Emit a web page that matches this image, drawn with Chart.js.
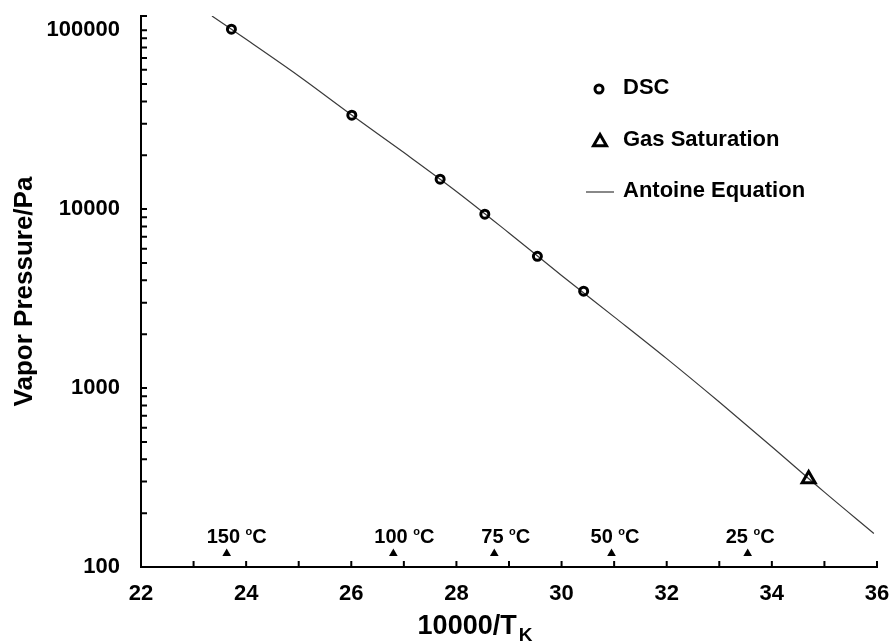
<!DOCTYPE html>
<html>
<head>
<meta charset="utf-8">
<script src="https://cdn.jsdelivr.net/npm/chart.js@4.4.1/dist/chart.umd.min.js"></script>
<style>
  html, body { margin: 0; padding: 0; background: #fff; }
</style>
</head>
<body>
<canvas id="myChart" width="893" height="644"></canvas>
<script>
// values (x = 10000/T in K, y = Pa)
const dscX = [23.72, 26.01, 27.69, 28.54, 29.54, 30.42];
const dscP = [101300, 33500, 14700, 9370, 5450, 3480];
const gasX = [34.70];
const gasP = [310];
const antoineX = [23.35, 24, 25, 26, 27, 28, 29, 30, 31, 32, 33, 34, 35, 35.94];
const antoineP = [120000, 88900, 55500, 33700, 20700, 12560, 7360, 4260, 2500, 1460, 835, 470, 262, 154];
const tempX = [23.63, 26.80, 28.72, 30.95, 33.54];
const tempP = [119, 119, 119, 119, 119];
const tempLabels = ['150', '100', '75', '50', '25'];
const xTickLabels = [22, 24, 26, 28, 30, 32, 34, 36];
const yTickLabels = [100, 1000, 10000, 100000];

const CHART = document.getElementById('myChart');
const FONT = '"Liberation Sans", Arial, sans-serif';
const toPts = (xs, ys) => xs.map((v, i) => ({ x: v, y: ys[i] }));

// where the temperature text sits, relative to its triangle
const tempShift = [-20, -19, -13, -21, -22];

const noPad = s => {
    s.paddingTop = 0;
    s.paddingBottom = 0;
    s.paddingLeft = 0;
    s.paddingRight = 0;
};

const decor = {
    id: 'decor',
    afterDraw(chart) {
        const { ctx, chartArea: a, scales: { x, y } } = chart;
        ctx.save();

        // tick marks pointing into the plot
        ctx.strokeStyle = '#000';
        ctx.lineWidth = 2;
        ctx.beginPath();
        x.ticks.forEach(t => {
            const px = x.getPixelForValue(t.value);
            ctx.moveTo(px, a.bottom);
            ctx.lineTo(px, a.bottom - 6);
        });
        y.ticks.forEach(t => {
            const py = y.getPixelForValue(t.value);
            ctx.moveTo(a.left, py);
            ctx.lineTo(a.left + 6, py);
        });
        ctx.stroke();

        ctx.fillStyle = '#000';
        ctx.textBaseline = 'middle';
        ctx.textAlign = 'left';

        // temperature labels
        tempLabels.forEach((lab, i) => {
            const px = x.getPixelForValue(tempX[i]) + tempShift[i];
            const py = y.getPixelForValue(tempP[i]) - 16;
            ctx.font = 'bold 20px ' + FONT;
            const s = lab + ' ';
            ctx.fillText(s, px, py);
            let cx = px + ctx.measureText(s).width;
            ctx.font = 'bold 11px ' + FONT;
            ctx.fillText('o', cx, py - 5.5);
            cx += ctx.measureText('o').width;
            ctx.font = 'bold 20px ' + FONT;
            ctx.fillText('C', cx, py);
        });

        // legend
        const lx = a.left + 458;
        const tx = a.left + 482;
        ctx.font = 'bold 22px ' + FONT;
        ctx.strokeStyle = '#000';
        ctx.fillStyle = 'rgba(0,0,0,0)';
        ctx.lineWidth = 3;
        Chart.helpers.drawPoint(ctx, { pointStyle: 'circle', radius: 4, rotation: 0, borderWidth: 3 }, lx, a.top + 73);
        Chart.helpers.drawPoint(ctx, { pointStyle: 'triangle', radius: 7.5, rotation: 0, borderWidth: 3 }, lx + 1, a.top + 126);
        ctx.fillStyle = '#000';
        ctx.fillText('DSC', tx, a.top + 72);
        ctx.fillText('Gas Saturation', tx, a.top + 124);
        ctx.strokeStyle = '#3a3a3a';
        ctx.lineWidth = 1.2;
        ctx.beginPath();
        ctx.moveTo(a.left + 445, a.top + 176);
        ctx.lineTo(a.left + 473, a.top + 176);
        ctx.stroke();
        ctx.fillText('Antoine Equation', tx, a.top + 175);

        // axis titles
        ctx.font = 'bold 26px ' + FONT;
        ctx.save();
        ctx.translate(25, (a.top + a.bottom) / 2);
        ctx.rotate(-Math.PI / 2);
        ctx.textAlign = 'center';
        ctx.fillText('Vapor Pressure/Pa', 0, 0);
        ctx.restore();

        const main = '10000/T';
        ctx.font = 'bold 27px ' + FONT;
        const w1 = ctx.measureText(main).width;
        ctx.font = 'bold 19px ' + FONT;
        const w2 = ctx.measureText('K').width;
        const sx = a.left + 334 - (w1 + w2 + 2) / 2;
        ctx.font = 'bold 27px ' + FONT;
        ctx.fillText(main, sx, 627);
        ctx.font = 'bold 19px ' + FONT;
        ctx.fillText('K', sx + w1 + 2, 636);

        ctx.restore();
    }
};

const chart = new Chart(CHART, {
    type: 'scatter',
    data: {
        datasets: [
            {
                label: 'DSC',
                data: toPts(dscX, dscP),
                pointStyle: 'circle',
                pointRadius: 4,
                pointBorderWidth: 3,
                borderColor: '#000',
                backgroundColor: 'rgba(0,0,0,0)'
            },
            {
                label: 'Gas Saturation',
                data: toPts(gasX, gasP),
                pointStyle: 'triangle',
                pointRadius: 7.5,
                pointBorderWidth: 3,
                borderColor: '#000',
                backgroundColor: 'rgba(0,0,0,0)'
            },
            {
                label: 'temps',
                data: toPts(tempX, tempP),
                pointStyle: 'triangle',
                pointRadius: 5,
                pointBorderWidth: 0,
                borderColor: '#000',
                backgroundColor: '#000'
            },
            {
                label: 'Antoine Equation',
                data: toPts(antoineX, antoineP),
                showLine: true,
                cubicInterpolationMode: 'monotone',
                pointRadius: 0,
                borderColor: '#3a3a3a',
                borderWidth: 1.2
            }
        ]
    },
    options: {
        responsive: false,
        animation: false,
        layout: { padding: { top: 16, right: 16, left: 0, bottom: 0 } },
        plugins: { legend: { display: false }, tooltip: { enabled: false } },
        scales: {
            x: {
                type: 'linear',
                min: 22,
                max: 36,
                afterFit: s => { s.height = 77; noPad(s); },
                grid: { display: false, drawTicks: false },
                border: { display: true, color: '#000', width: 2 },
                ticks: {
                    stepSize: 1,
                    autoSkip: false,
                    maxRotation: 0,
                    padding: 14,
                    color: '#000',
                    font: { family: FONT, size: 22, weight: 'bold' },
                    callback: v => xTickLabels.includes(v) ? String(v) : ''
                }
            },
            y: {
                type: 'logarithmic',
                min: 100,
                max: 120000,
                afterFit: s => { s.width = 141; noPad(s); },
                afterBuildTicks: s => {
                    const t = [];
                    yTickLabels.forEach((p, i) => {
                        if (i < yTickLabels.length - 1) {
                            for (let k = 1; k < 10; k++) t.push({ value: k * p });
                        } else {
                            t.push({ value: p });
                        }
                    });
                    t.push({ value: 120000 });
                    s.ticks = t;
                },
                grid: { display: false, drawTicks: false },
                border: { display: true, color: '#000', width: 2 },
                ticks: {
                    autoSkip: false,
                    padding: 21,
                    color: '#000',
                    font: { family: FONT, size: 22, weight: 'bold' },
                    callback: v => yTickLabels.includes(v) ? String(v) : ''
                }
            }
        }
    },
    plugins: [decor]
});
</script>
</body>
</html>
